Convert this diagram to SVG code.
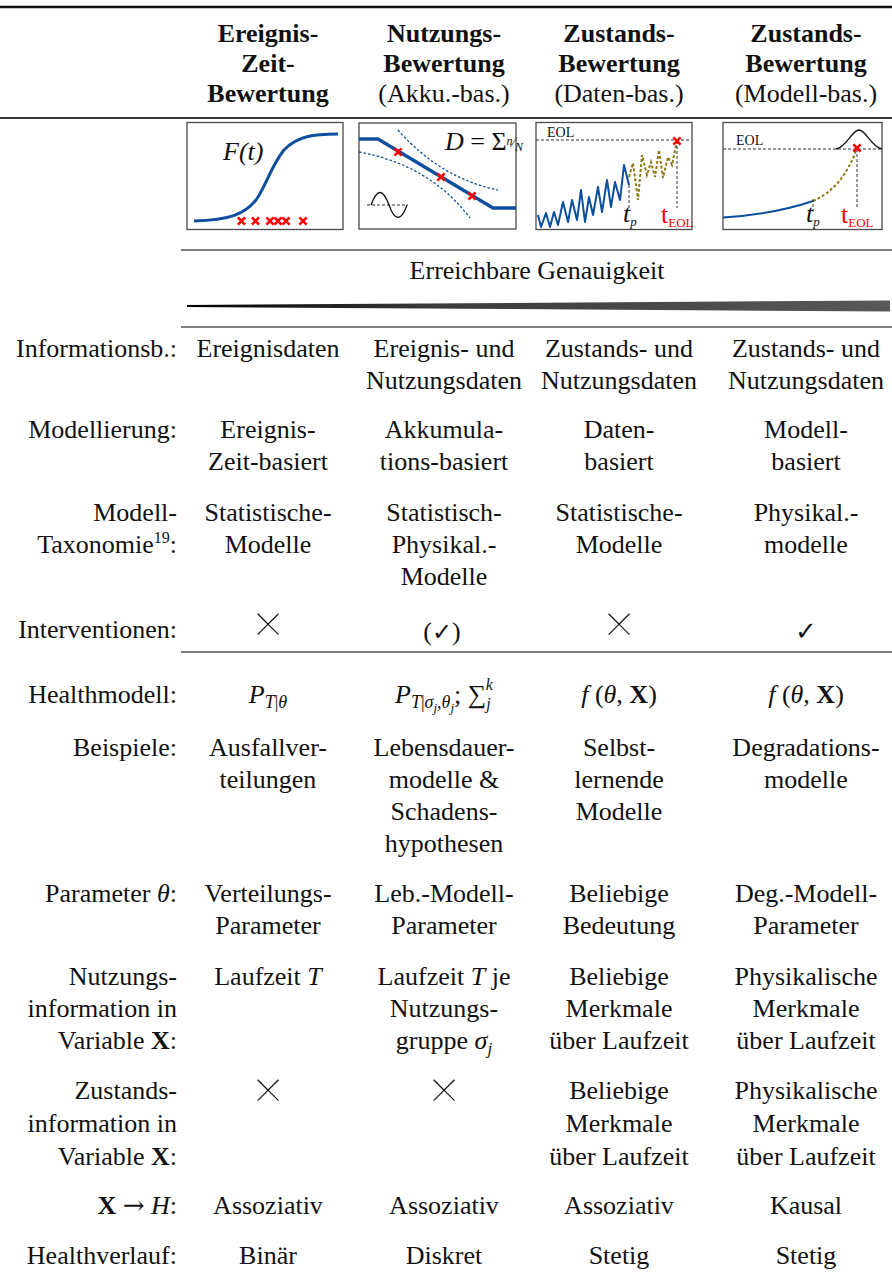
<svg xmlns="http://www.w3.org/2000/svg" xmlns:xlink="http://www.w3.org/1999/xlink" width="892" height="1279" viewBox="0 0 892 1279">
  <style>
    text { font-family: "Liberation Serif", "Times New Roman", serif; font-size: 26px; fill: #111; }
    .h { font-weight: bold; text-anchor: middle; }
    .c { text-anchor: middle; }
    .l { text-anchor: end; }
    .i { font-style: italic; }
    .b { font-weight: bold; }
    .sym { font-family: "DejaVu Sans", sans-serif; }
    .arrow { font-family: "DejaVu Serif", serif; }
    .cross { font-family: Inter, "Liberation Serif", serif; font-size: 52px; font-weight: 100; }
    .rule { stroke: #555; stroke-width: 1.4; }
    .box { fill: #fff; stroke: #4a4a4a; stroke-width: 1.3; }
    .blue { fill: none; stroke: #0e4f9d; stroke-linejoin: round; }
    .bdot { fill: none; stroke: #0e4f9d; stroke-width: 1.3; stroke-dasharray: 2.5 2; }
    .olive { fill: none; stroke: #8c7b15; stroke-width: 2; stroke-dasharray: 3 2; }
    .dash { fill: none; stroke: #333; stroke-width: 1; stroke-dasharray: 3 2; }
    .xm { fill: none; stroke: #f00; stroke-width: 2.6; }
    .small { font-size: 14px; }
    .red { fill: #f00; }
  </style>
  <defs>
    <path id="xmark" class="xm" d="M-3.6,-3.6 L3.6,3.6 M3.6,-3.6 L-3.6,3.6"/>
    <linearGradient id="wedge" x1="0" y1="0" x2="1" y2="0">
      <stop offset="0" stop-color="#000"/>
      <stop offset="0.35" stop-color="#3a3a3a"/>
      <stop offset="1" stop-color="#595959"/>
    </linearGradient>
  </defs>

  <!-- table rules -->
  <g id="rules">
    <line x1="0" y1="7" x2="892" y2="7" stroke="#111" stroke-width="2.4"/>
    <line x1="0" y1="118" x2="892" y2="118" stroke="#333" stroke-width="1.8"/>
    <line class="rule" x1="181" y1="250" x2="892" y2="250"/>
    <polygon points="187,305 890,300.5 890,311.5 187,307" fill="url(#wedge)"/>
    <line class="rule" x1="181" y1="327" x2="892" y2="327"/>
    <line class="rule" x1="181" y1="652" x2="892" y2="652"/>
  </g>

  <!-- column headers -->
  <g id="header">
    <text class="h" x="268" y="42">Ereignis-</text>
    <text class="h" x="268" y="72">Zeit-</text>
    <text class="h" x="268" y="102">Bewertung</text>
    <text class="h" x="444" y="42">Nutzungs-</text>
    <text class="h" x="444" y="72">Bewertung</text>
    <text class="c" x="444" y="102">(Akku.-bas.)</text>
    <text class="h" x="619" y="42">Zustands-</text>
    <text class="h" x="619" y="72">Bewertung</text>
    <text class="c" x="619" y="102">(Daten-bas.)</text>
    <text class="h" x="806" y="42">Zustands-</text>
    <text class="h" x="806" y="72">Bewertung</text>
    <text class="c" x="806" y="102">(Modell-bas.)</text>
  </g>

  <!-- panel 1: failure distribution F(t) -->
  <g id="panel-event-time">
    <rect class="box" x="187" y="122.5" width="156" height="107"/>
    <path class="blue" stroke-width="3" d="M194,221 C230,220 245,214 256,200 C266,186 271,166 284,150 C297,136 314,134 338,134"/>
    <text class="i" x="223" y="160" font-size="19">F(t)</text>
    <use xlink:href="#xmark" x="241.5" y="221"/>
    <use xlink:href="#xmark" x="255.5" y="221"/>
    <use xlink:href="#xmark" x="270" y="221"/>
    <use xlink:href="#xmark" x="278" y="221"/>
    <use xlink:href="#xmark" x="286" y="221"/>
    <use xlink:href="#xmark" x="303" y="221"/>
  </g>

  <!-- panel 2: damage accumulation -->
  <g id="panel-usage">
    <rect class="box" x="359" y="123" width="157" height="106"/>
    <path class="bdot" d="M398,130 Q440,178 498,190"/>
    <path class="bdot" d="M359,152 Q430,165 470,218"/>
    <path class="blue" stroke-width="3.4" d="M359,139 L378,139 L493,208 L516,208"/>
    <use xlink:href="#xmark" x="398" y="152"/>
    <use xlink:href="#xmark" x="441" y="177"/>
    <use xlink:href="#xmark" x="472" y="196"/>
    <text x="445" y="150" font-size="19"><tspan class="i">D</tspan> = Σ<tspan class="i" font-size="12" dy="-5">n</tspan><tspan font-size="14" dy="2">⁄</tspan><tspan class="i" font-size="12" dy="4">N</tspan></text>
    <line class="dash" x1="367" y1="205" x2="408" y2="205"/>
    <path fill="none" stroke="#111" stroke-width="1.3" d="M371,205 Q380,180 389,205 Q398,230 407,205"/>
  </g>

  <!-- panel 3: data-based condition trend -->
  <g id="panel-data">
    <rect class="box" x="536" y="122.5" width="156" height="107"/>
    <line class="dash" x1="536" y1="140" x2="690" y2="140"/>
    <text class="small" x="547" y="137">EOL</text>
    <path class="blue" stroke-width="2" d="M538,215 L541,227 L546,213 L550,227 L554,212 L558,225 L563,202 L568,222 L572,200 L577,220 L581,190 L585,222 L589,197 L593,215 L598,187 L602,212 L607,180 L611,207 L615,182 L620,200 L624,165 L629,185"/>
    <path class="olive" d="M629,177 L633,163 L638,200 L642,155 L647,175 L651,162 L655,177 L659,150 L663,178 L668,157 L672,165 L677,141"/>
    <line class="dash" x1="629" y1="185" x2="629" y2="210"/>
    <line class="dash" x1="677" y1="141" x2="677" y2="208"/>
    <use xlink:href="#xmark" x="677" y="141"/>
    <text x="623" y="222" font-size="18"><tspan class="i">t</tspan><tspan class="i" font-size="13" dy="4">p</tspan></text>
    <text class="red" x="661" y="223" font-size="18">t<tspan font-size="13" dy="4">EOL</tspan></text>
  </g>

  <!-- panel 4: model-based degradation -->
  <g id="panel-model">
    <rect class="box" x="723" y="122.5" width="159" height="107"/>
    <line class="dash" x1="723" y1="149" x2="880" y2="149"/>
    <text class="small" x="736" y="145">EOL</text>
    <path fill="none" stroke="#111" stroke-width="1.3" d="M836,149 C846,148 852,130 859,130 C866,130 872,148 882,149"/>
    <path class="blue" stroke-width="2" d="M723,217.5 Q775,214 813,201"/>
    <path class="olive" d="M813,201 Q843,188 857,148"/>
    <line class="dash" x1="813" y1="199" x2="813" y2="212"/>
    <line class="dash" x1="857" y1="149" x2="857" y2="208"/>
    <use xlink:href="#xmark" x="857" y="148"/>
    <text x="806" y="222" font-size="18"><tspan class="i">t</tspan><tspan class="i" font-size="13" dy="4">p</tspan></text>
    <text class="red" x="841" y="223" font-size="18">t<tspan font-size="13" dy="4">EOL</tspan></text>
  </g>

  <g id="accuracy">
    <text class="c" x="537" y="279">Erreichbare Genauigkeit</text>
  </g>

  <!-- row labels -->
  <g id="labels">
    <text class="l" x="177" y="357">Informationsb.:</text>
    <text class="l" x="177" y="438">Modellierung:</text>
    <text class="l" x="177" y="521">Modell-</text>
    <text class="l" x="177" y="553">Taxonomie<tspan font-size="16" dy="-10">19</tspan><tspan dy="10">:</tspan></text>
    <text class="l" x="177" y="638">Interventionen:</text>
    <text class="l" x="177" y="703">Healthmodell:</text>
    <text class="l" x="177" y="756">Beispiele:</text>
    <text class="l" x="177" y="902">Parameter <tspan class="i">θ</tspan>:</text>
    <text class="l" x="177" y="985">Nutzungs-</text>
    <text class="l" x="177" y="1017">information in</text>
    <text class="l" x="177" y="1049">Variable <tspan class="b">X</tspan>:</text>
    <text class="l" x="177" y="1099">Zustands-</text>
    <text class="l" x="177" y="1132">information in</text>
    <text class="l" x="177" y="1165">Variable <tspan class="b">X</tspan>:</text>
    <text class="l" x="177" y="1214"><tspan class="b">X</tspan> <tspan class="arrow">→</tspan> <tspan class="i">H</tspan>:</text>
    <text class="l" x="177" y="1264">Healthverlauf:</text>
  </g>

  <!-- column 1: event-time assessment -->
  <g id="col-event-time">
    <text class="c" x="268" y="357">Ereignisdaten</text>
    <text class="c" x="268" y="438">Ereignis-</text>
    <text class="c" x="268" y="470">Zeit-basiert</text>
    <text class="c" x="268" y="521">Statistische-</text>
    <text class="c" x="268" y="553">Modelle</text>
    <text class="c cross" x="268" y="639">×</text>
    <text class="c" x="268" y="703"><tspan class="i">P</tspan><tspan font-size="18" dy="5"><tspan class="i">T</tspan>|<tspan class="i">θ</tspan></tspan></text>
    <text class="c" x="268" y="756">Ausfallver-</text>
    <text class="c" x="268" y="788">teilungen</text>
    <text class="c" x="268" y="902">Verteilungs-</text>
    <text class="c" x="268" y="934">Parameter</text>
    <text class="c" x="268" y="985">Laufzeit <tspan class="i">T</tspan></text>
    <text class="c cross" x="268" y="1105">×</text>
    <text class="c" x="268" y="1214">Assoziativ</text>
    <text class="c" x="268" y="1264">Binär</text>
  </g>

  <!-- column 2: usage assessment -->
  <g id="col-usage">
    <text class="c" x="444" y="357">Ereignis- und</text>
    <text class="c" x="444" y="389">Nutzungsdaten</text>
    <text class="c" x="444" y="438">Akkumula-</text>
    <text class="c" x="444" y="470">tions-basiert</text>
    <text class="c" x="444" y="521">Statistisch-</text>
    <text class="c" x="444" y="553">Physikal.-</text>
    <text class="c" x="444" y="585">Modelle</text>
    <text class="c" x="442" y="640">(<tspan class="sym" font-size="24">✓</tspan>)</text>
    <text class="c" x="444" y="703"><tspan class="i">P</tspan><tspan font-size="18" dy="5"><tspan class="i">T</tspan>|<tspan class="i">σ</tspan><tspan class="i" font-size="13" dy="4">j</tspan><tspan dy="-4">,</tspan><tspan class="i">θ</tspan><tspan class="i" font-size="13" dy="4">j</tspan></tspan><tspan dy="-9">; ∑</tspan><tspan class="i" font-size="16" dy="6">j</tspan><tspan class="i" font-size="16" dx="-5" dy="-19">k</tspan></text>
    <text class="c" x="444" y="756">Lebensdauer-</text>
    <text class="c" x="444" y="788">modelle &amp;</text>
    <text class="c" x="444" y="820">Schadens-</text>
    <text class="c" x="444" y="852">hypothesen</text>
    <text class="c" x="444" y="902">Leb.-Modell-</text>
    <text class="c" x="444" y="934">Parameter</text>
    <text class="c" x="444" y="985">Laufzeit <tspan class="i">T</tspan> je</text>
    <text class="c" x="444" y="1017">Nutzungs-</text>
    <text class="c" x="444" y="1049">gruppe <tspan class="i">σ</tspan><tspan class="i" font-size="17" dy="5">j</tspan></text>
    <text class="c cross" x="444" y="1105">×</text>
    <text class="c" x="444" y="1214">Assoziativ</text>
    <text class="c" x="444" y="1264">Diskret</text>
  </g>

  <!-- column 3: data-based condition assessment -->
  <g id="col-data">
    <text class="c" x="619" y="357">Zustands- und</text>
    <text class="c" x="619" y="389">Nutzungsdaten</text>
    <text class="c" x="619" y="438">Daten-</text>
    <text class="c" x="619" y="470">basiert</text>
    <text class="c" x="619" y="521">Statistische-</text>
    <text class="c" x="619" y="553">Modelle</text>
    <text class="c cross" x="619" y="639">×</text>
    <text class="c" x="619" y="703"><tspan class="i">f</tspan> (<tspan class="i">θ</tspan>, <tspan class="b">X</tspan>)</text>
    <text class="c" x="619" y="756">Selbst-</text>
    <text class="c" x="619" y="788">lernende</text>
    <text class="c" x="619" y="820">Modelle</text>
    <text class="c" x="619" y="902">Beliebige</text>
    <text class="c" x="619" y="934">Bedeutung</text>
    <text class="c" x="619" y="985">Beliebige</text>
    <text class="c" x="619" y="1017">Merkmale</text>
    <text class="c" x="619" y="1049">über Laufzeit</text>
    <text class="c" x="619" y="1099">Beliebige</text>
    <text class="c" x="619" y="1132">Merkmale</text>
    <text class="c" x="619" y="1165">über Laufzeit</text>
    <text class="c" x="619" y="1214">Assoziativ</text>
    <text class="c" x="619" y="1264">Stetig</text>
  </g>

  <!-- column 4: model-based condition assessment -->
  <g id="col-model">
    <text class="c" x="806" y="357">Zustands- und</text>
    <text class="c" x="806" y="389">Nutzungsdaten</text>
    <text class="c" x="806" y="438">Modell-</text>
    <text class="c" x="806" y="470">basiert</text>
    <text class="c" x="806" y="521">Physikal.-</text>
    <text class="c" x="806" y="553">modelle</text>
    <text class="c sym" x="806" y="640" font-size="24">✓</text>
    <text class="c" x="806" y="703"><tspan class="i">f</tspan> (<tspan class="i">θ</tspan>, <tspan class="b">X</tspan>)</text>
    <text class="c" x="806" y="756">Degradations-</text>
    <text class="c" x="806" y="788">modelle</text>
    <text class="c" x="806" y="902">Deg.-Modell-</text>
    <text class="c" x="806" y="934">Parameter</text>
    <text class="c" x="806" y="985">Physikalische</text>
    <text class="c" x="806" y="1017">Merkmale</text>
    <text class="c" x="806" y="1049">über Laufzeit</text>
    <text class="c" x="806" y="1099">Physikalische</text>
    <text class="c" x="806" y="1132">Merkmale</text>
    <text class="c" x="806" y="1165">über Laufzeit</text>
    <text class="c" x="806" y="1214">Kausal</text>
    <text class="c" x="806" y="1264">Stetig</text>
  </g>
</svg>
